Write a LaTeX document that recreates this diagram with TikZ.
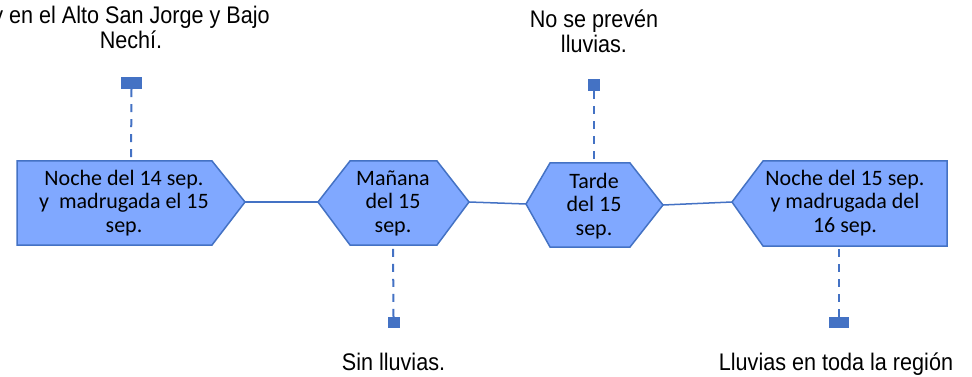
\documentclass[tikz,border=0pt]{standalone}
\usepackage{fontspec}
\setmainfont{Liberation Sans}
\newfontfamily\labelfont[FakeStretch=0.9]{Liberation Sans}
\newfontfamily\boxfont{Carlito}
\definecolor{lineblue}{HTML}{4472C4}
\definecolor{fillblue}{RGB}{128,168,255}
\begin{document}
\begin{tikzpicture}[x=1pt,y=-1pt,
  shapebox/.style={draw=lineblue, fill=fillblue, line width=1.5pt, line join=miter},
  conn/.style={draw=lineblue, line width=1.5pt},
  leader/.style={draw=lineblue, line width=2pt, dash pattern=on 8pt off 7pt},
  marker/.style={fill=lineblue, draw=none, inner sep=0pt, minimum height=12pt},
  boxtext/.style={font=\boxfont\fontsize{22}{23.5}\selectfont, align=center, inner sep=0pt},
  labeltext/.style={font=\labelfont\fontsize{24}{25.5}\selectfont, align=center, inner sep=0pt, anchor=base}]
\useasboundingbox (0,0) rectangle (972,377);
\clip (0,0) rectangle (972,377);

% anchor coordinates of the shapes
\coordinate (s1r) at (245,202);
\coordinate (s1t) at (131,161);
\coordinate (s2l) at (318,202);
\coordinate (s2r) at (469,202);
\coordinate (s2b) at (393,245);
\coordinate (s3l) at (526,204);
\coordinate (s3r) at (663,205);
\coordinate (s3t) at (594,163);
\coordinate (s4l) at (732,202);
\coordinate (s4b) at (839,246);

% markers
\node[marker, minimum width=21pt] (m1) at (131.5,83) {};
\node[marker, minimum width=12pt] (m3) at (594,85) {};
\node[marker, minimum width=12pt, minimum height=11pt] (m2) at (393.5,322.5) {};
\node[marker, minimum width=20pt, minimum height=11pt] (m4) at (839,322.5) {};

% dashed leaders
\draw[leader] (m1.south) -- (s1t);
\draw[leader] (m3.south) -- (s3t);
\draw[leader] (m2.north) -- (s2b);
\draw[leader] (m4.north) -- (s4b);

% solid connectors
\draw[conn] (s1r) -- (s2l);
\draw[conn] (s2r) -- (s3l);
\draw[conn] (s3r) -- (s4l);

% shapes
\draw[shapebox] (17,161) -- (212,161) -- (s1r) -- (212,245) -- (17,245) -- cycle;
\draw[shapebox] (s2l) -- (350,161) -- (437,161) -- (s2r) -- (437,245) -- (350,245) -- cycle;
\draw[shapebox] (s3l) -- (550,163) -- (630,163) -- (s3r) -- (630,247) -- (550,247) -- cycle;
\draw[shapebox] (s4l) -- (763,161) -- (947,161) -- (947,246) -- (763,246) -- cycle;

% shape texts
\node[boxtext] (t1) at (124,203) {Noche del 14 sep.\\y\ \ madrugada el 15\\sep.};
\node[boxtext] (t2) at (393,203) {Mañana\\del 15\\sep.};
\node[boxtext] (t3) at (594,206) {Tarde\\del 15\\sep.};
\node[boxtext] (t4) at (845,203) {Noche del 15 sep.\\y madrugada del\\16 sep.};

% labels
\node[labeltext] (l1) at (131,49) {y en el Alto San Jorge y Bajo\\Nechí.};
\node[labeltext] (l3) at (594,53) {No se prevén\\lluvias.};
\node[labeltext] (l2) at (393.5,370) {Sin lluvias.};
\node[labeltext] (l4) at (836,370) {Lluvias en toda la región};
\end{tikzpicture}
\end{document}
